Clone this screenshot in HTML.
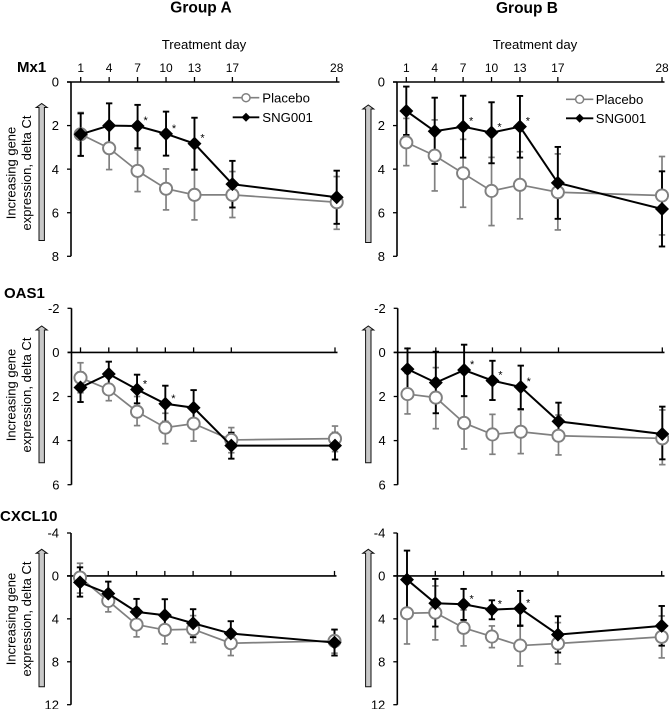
<!DOCTYPE html>
<html lang="en">
<head>
<meta charset="utf-8">
<title>Gene expression by treatment day</title>
<style>
html,body{margin:0;padding:0;background:#fff;}
body{width:669px;height:709px;overflow:hidden;}
svg{display:block;font-family:"Liberation Sans",sans-serif;fill:#000;filter:blur(0.3px);}
</style>
</head>
<body>
<svg id="chart" xmlns="http://www.w3.org/2000/svg" width="669" height="709" viewBox="0 0 669 709"></svg>
<script>
const treatmentDays = [1, 4, 7, 10, 13, 17, 28];
const yTicksMx1 = [0, 2, 4, 6, 8];
const yTicksOas1 = [-2, 0, 2, 4, 6];
const yTicksCxcl10 = [-4, 0, 4, 8, 12];

const mx1APlacebo = [2.4, 3.04, 4.08, 4.9, 5.18, 5.18, 5.52];
const mx1APlaceboLow = [1.4, 2.05, 3.12, 3.99, 4.04, 4.11, 4.34];
const mx1APlaceboHigh = [3.4, 4.02, 5.03, 5.87, 6.33, 6.22, 6.76];
const mx1ASng = [2.4, 2.0, 2.02, 2.38, 2.83, 4.69, 5.29];
const mx1ASngLow = [1.44, 0.98, 1.05, 1.36, 1.64, 3.62, 4.07];
const mx1ASngHigh = [3.39, 3.0, 3.04, 3.38, 4.02, 5.76, 6.51];
const mx1AStars = [7, 10, 13];

const mx1BPlacebo = [2.77, 3.38, 4.19, 5.0, 4.72, 5.06, 5.21];
const mx1BPlaceboLow = [1.67, 1.74, 2.63, 3.46, 3.2, 3.3, 3.42];
const mx1BPlaceboHigh = [3.84, 5.0, 5.75, 6.59, 6.28, 6.79, 7.02];
const mx1BSng = [1.33, 2.26, 2.05, 2.32, 2.05, 4.63, 5.83];
const mx1BSngLow = [0.21, 0.72, 0.63, 0.93, 0.64, 2.98, 4.1];
const mx1BSngHigh = [2.43, 3.76, 3.47, 3.73, 3.47, 6.28, 7.55];
const mx1BStars = [7, 10, 13];

const oas1APlacebo = [1.15, 1.68, 2.69, 3.41, 3.23, 3.97, 3.91];
const oas1APlaceboLow = [0.47, 0.95, 2.0, 2.76, 2.4, 3.41, 3.34];
const oas1APlaceboHigh = [1.83, 2.19, 3.32, 4.14, 4.02, 4.55, 4.5];
const oas1ASng = [1.59, 0.98, 1.68, 2.33, 2.51, 4.23, 4.23];
const oas1ASngLow = [0.9, 0.42, 1.01, 1.51, 1.71, 3.64, 3.64];
const oas1ASngHigh = [2.25, 1.55, 2.31, 3.14, 3.3, 4.82, 4.86];
const oas1AStars = [7, 10];

const oas1BPlacebo = [1.89, 2.05, 3.2, 3.72, 3.6, 3.78, 3.9];
const oas1BPlaceboLow = [0.95, 0.69, 2.0, 2.81, 2.61, 2.84, 2.61];
const oas1BPlaceboHigh = [2.79, 3.46, 4.38, 4.62, 4.59, 4.65, 5.09];
const oas1BSng = [0.76, 1.37, 0.8, 1.28, 1.57, 3.13, 3.7];
const oas1BSngLow = [-0.18, -0.03, -0.35, 0.38, 0.6, 2.28, 2.46];
const oas1BSngHigh = [1.68, 2.76, 1.98, 2.16, 2.57, 3.97, 4.85];
const oas1BStars = [7, 10, 13];

const cxclAPlacebo = [0.15, 2.33, 4.53, 5.03, 4.97, 6.27, 6.06];
const cxclAPlaceboLow = [-1.18, 1.3, 3.0, 3.6, 3.7, 5.1, 5.0];
const cxclAPlaceboHigh = [1.6, 3.35, 5.68, 6.33, 6.2, 7.42, 7.2];
const cxclASng = [0.6, 1.65, 3.35, 3.66, 4.41, 5.37, 6.21];
const cxclASngLow = [-0.8, 0.53, 2.14, 2.17, 3.1, 4.22, 5.0];
const cxclASngHigh = [1.93, 2.76, 4.57, 5.12, 5.71, 6.52, 7.42];
const cxclAStars = [];

const cxclBPlacebo = [3.48, 3.42, 4.84, 5.65, 6.49, 6.3, 5.68];
const cxclBPlaceboLow = [0.62, 0.93, 3.17, 4.66, 4.57, 4.35, 3.73];
const cxclBPlaceboHigh = [6.34, 5.96, 6.52, 6.68, 8.39, 8.2, 7.64];
const cxclBSng = [0.34, 2.55, 2.64, 3.14, 3.04, 5.47, 4.66];
const cxclBSngLow = [-2.36, 0.28, 1.21, 2.27, 1.4, 3.76, 2.8];
const cxclBSngHigh = [3.07, 4.72, 4.1, 4.04, 4.66, 7.14, 6.5];
const cxclBStars = [7, 10, 13];

const GREY = '#808080';
const svg = document.getElementById('chart');

function make(tag, attrs, parent, name) {
  const el = document.createElementNS('http://www.w3.org/2000/svg', tag);
  for (const k in attrs) el.setAttribute(k, attrs[k]);
  
  
  parent.appendChild(el);
  return el;
}
function label(text, x, y, size, parent, name, anchor, weight, transform) {
  const attrs = { x: x, y: y, 'font-size': size, 'text-anchor': anchor || 'start', fill: '#000' };
  if (weight) attrs['font-weight'] = weight;
  if (transform) attrs.transform = transform;
  const el = make('text', attrs, parent, name);
  el.textContent = text;
  return el;
}
function drawErrorBars(g, days, lows, highs, xAt, yAt, isPlacebo) {
  const color = isPlacebo ? GREY : '#000';
  const key = isPlacebo ? 'placebo' : 'sng001';
  const barWidth = isPlacebo ? 1.7 : 1.9;
  const sg = make('g', {}, g, key + '-error-bars');
  days.forEach(function (d, i) {
    const x = xAt(d);
    make('line', { x1: x, x2: x, y1: yAt(lows[i]), y2: yAt(highs[i]), stroke: color, 'stroke-width': barWidth }, sg, key + '-error-bar-day-' + d);
    make('line', { x1: x - 3.2, x2: x + 3.2, y1: yAt(lows[i]), y2: yAt(lows[i]), stroke: color, 'stroke-width': barWidth }, sg, key + '-error-cap-low-day-' + d);
    make('line', { x1: x - 3.2, x2: x + 3.2, y1: yAt(highs[i]), y2: yAt(highs[i]), stroke: color, 'stroke-width': barWidth }, sg, key + '-error-cap-high-day-' + d);
  });
}
function drawSeries(g, days, means, xAt, yAt, isPlacebo) {
  const color = isPlacebo ? GREY : '#000';
  const key = isPlacebo ? 'placebo' : 'sng001';
  const sg = make('g', {}, g, key + '-series');
  const pts = days.map(function (d, i) { return xAt(d) + ',' + yAt(means[i]); }).join(' ');
  make('polyline', { points: pts, fill: 'none', stroke: color, 'stroke-width': isPlacebo ? 1.7 : 2 }, sg, key + '-line');
  days.forEach(function (d, i) {
    const x = xAt(d), y = yAt(means[i]);
    if (isPlacebo) {
      make('circle', { cx: x, cy: y, r: 6.1, fill: '#fff', stroke: GREY, 'stroke-width': 1.9 }, sg, 'placebo-point-day-' + d);
    } else {
      const s = 7;
      make('polygon', { points: [x, y - s, x + s, y, x, y + s, x - s, y].join(' '), fill: '#000' }, sg, 'sng001-point-day-' + d);
    }
  });
}
function drawPanel(p) {
  const g = make('g', {}, svg, p.name + '-panel');
  const xAt = function (d) { return p.x1 + (d - 1) * (p.x28 - p.x1) / 27; };
  const yMin = p.yTicks[0], yMax = p.yTicks[p.yTicks.length - 1];
  const yAt = function (v) { return p.top + (v - yMin) * (p.bottom - p.top) / (yMax - yMin); };
  const zero = yAt(0);

  make('line', { x1: p.axisX, x2: p.axisX, y1: p.top, y2: p.bottom, stroke: '#000', 'stroke-width': 1.6 }, g, 'y-axis-line');
  make('line', { x1: p.axisX - 4, x2: p.xEnd, y1: zero, y2: zero, stroke: '#000', 'stroke-width': 1.6 }, g, 'x-axis-line');
  p.yTicks.forEach(function (t) {
    make('line', { x1: p.axisX - 4, x2: p.axisX, y1: yAt(t), y2: yAt(t), stroke: '#000', 'stroke-width': 1.3 }, g, 'y-tick-' + t);
    label(String(t), p.axisX - 12, yAt(t) + 4.6, 13, g, 'y-tick-label-' + t, 'end');
  });
  treatmentDays.forEach(function (d) {
    make('line', { x1: xAt(d), x2: xAt(d), y1: zero - 5, y2: zero, stroke: '#000', 'stroke-width': 1.3 }, g, 'x-tick-day-' + d);
    if (p.showDays) label(String(d), xAt(d), 72, 12, g, 'x-tick-label-day-' + d, 'middle');
  });

  drawErrorBars(g, treatmentDays, p.placeboLow, p.placeboHigh, xAt, yAt, true);
  drawErrorBars(g, treatmentDays, p.sngLow, p.sngHigh, xAt, yAt, false);
  drawSeries(g, treatmentDays, p.placebo, xAt, yAt, true);
  drawSeries(g, treatmentDays, p.sng, xAt, yAt, false);

  p.stars.forEach(function (d) {
    const i = treatmentDays.indexOf(d);
    label('*', xAt(d) + 8, yAt(p.sng[i]) - 2, 11, g, 'significance-star-day-' + d, 'middle');
  });

  const ax = p.arrowX, at = p.arrowTop, ab = p.arrowBottom;
  const arrowPts = [ax - 2.7, ab, ax + 2.7, ab, ax + 2.7, at + 4, ax + 5.5, at + 4, ax, at, ax - 5.5, at + 4, ax - 2.7, at + 4].join(' ');
  make('polygon', { points: arrowPts, fill: '#c8c8c8', stroke: '#111', 'stroke-width': 1 }, g, 'increasing-expression-arrow');
}

const panels = [
  { name: 'mx1-group-a', x1: 80.7, x28: 336.7, axisX: 71, xEnd: 339.5, top: 82, bottom: 256.3, yTicks: yTicksMx1, showDays: true,
    placebo: mx1APlacebo, placeboLow: mx1APlaceboLow, placeboHigh: mx1APlaceboHigh, sng: mx1ASng, sngLow: mx1ASngLow, sngHigh: mx1ASngHigh, stars: mx1AStars,
    arrowX: 41.7, arrowTop: 103.5, arrowBottom: 240.5 },
  { name: 'mx1-group-b', x1: 406.3, x28: 662, axisX: 397, xEnd: 664.5, top: 82, bottom: 256.3, yTicks: yTicksMx1, showDays: true,
    placebo: mx1BPlacebo, placeboLow: mx1BPlaceboLow, placeboHigh: mx1BPlaceboHigh, sng: mx1BSng, sngLow: mx1BSngLow, sngHigh: mx1BSngHigh, stars: mx1BStars,
    arrowX: 368.3, arrowTop: 105, arrowBottom: 242.5 },
  { name: 'oas1-group-a', x1: 80.5, x28: 335, axisX: 71.5, xEnd: 337.5, top: 308.3, bottom: 484.7, yTicks: yTicksOas1, showDays: false,
    placebo: oas1APlacebo, placeboLow: oas1APlaceboLow, placeboHigh: oas1APlaceboHigh, sng: oas1ASng, sngLow: oas1ASngLow, sngHigh: oas1ASngHigh, stars: oas1AStars,
    arrowX: 41.7, arrowTop: 326, arrowBottom: 462.7 },
  { name: 'oas1-group-b', x1: 407.5, x28: 662.3, axisX: 397.7, xEnd: 664.5, top: 308.3, bottom: 484.7, yTicks: yTicksOas1, showDays: false,
    placebo: oas1BPlacebo, placeboLow: oas1BPlaceboLow, placeboHigh: oas1BPlaceboHigh, sng: oas1BSng, sngLow: oas1BSngLow, sngHigh: oas1BSngHigh, stars: oas1BStars,
    arrowX: 368.3, arrowTop: 326, arrowBottom: 462.7 },
  { name: 'cxcl10-group-a', x1: 80, x28: 334.5, axisX: 71, xEnd: 336.5, top: 533, bottom: 704.7, yTicks: yTicksCxcl10, showDays: false,
    placebo: cxclAPlacebo, placeboLow: cxclAPlaceboLow, placeboHigh: cxclAPlaceboHigh, sng: cxclASng, sngLow: cxclASngLow, sngHigh: cxclASngHigh, stars: cxclAStars,
    arrowX: 41.7, arrowTop: 549.3, arrowBottom: 686.7 },
  { name: 'cxcl10-group-b', x1: 407, x28: 661.7, axisX: 397.3, xEnd: 664.5, top: 533, bottom: 704.7, yTicks: yTicksCxcl10, showDays: false,
    placebo: cxclBPlacebo, placeboLow: cxclBPlaceboLow, placeboHigh: cxclBPlaceboHigh, sng: cxclBSng, sngLow: cxclBSngLow, sngHigh: cxclBSngHigh, stars: cxclBStars,
    arrowX: 368.3, arrowTop: 549.3, arrowBottom: 686.7 }
];
panels.forEach(drawPanel);

const titles = make('g', {}, svg, 'figure-titles');
label('Group A', 201, 12.5, 15.5, titles, 'group-a-title', 'middle', 'bold');
label('Group B', 527, 13, 15.5, titles, 'group-b-title', 'middle', 'bold');
label('Treatment day', 204, 49, 13.2, titles, 'group-a-x-axis-title', 'middle');
label('Treatment day', 535, 49, 13.2, titles, 'group-b-x-axis-title', 'middle');
label('Mx1', 17, 72, 15, titles, 'mx1-row-label', 'start', 'bold');
label('OAS1', 4, 298, 15, titles, 'oas1-row-label', 'start', 'bold');
label('CXCL10', 0, 521, 15, titles, 'cxcl10-row-label', 'start', 'bold');

[[173, 'mx1'], [395, 'oas1'], [619, 'cxcl10']].forEach(function (row) {
  const cy = row[0];
  label('Increasing gene', 15.5, cy, 13, titles, row[1] + '-y-axis-title-line-1', 'middle', null, 'rotate(-90 15.5 ' + cy + ')');
  label('expression, delta Ct', 31, cy, 13, titles, row[1] + '-y-axis-title-line-2', 'middle', null, 'rotate(-90 31 ' + cy + ')');
});

function drawLegend(name, lineX1, lineX2, textX, y1, y2) {
  const g = make('g', {}, svg, name);
  const mid = (lineX1 + lineX2) / 2;
  make('line', { x1: lineX1, x2: lineX2, y1: y1, y2: y1, stroke: GREY, 'stroke-width': 1.6 }, g, 'legend-placebo-line');
  make('circle', { cx: mid, cy: y1, r: 4, fill: '#fff', stroke: GREY, 'stroke-width': 1.5 }, g, 'legend-placebo-marker');
  label('Placebo', textX, y1 + 4.6, 13.2, g, 'legend-placebo-label');
  make('line', { x1: lineX1, x2: lineX2, y1: y2, y2: y2, stroke: '#000', 'stroke-width': 1.8 }, g, 'legend-sng001-line');
  const s = 4.5;
  make('polygon', { points: [mid, y2 - s, mid + s, y2, mid, y2 + s, mid - s, y2].join(' '), fill: '#000' }, g, 'legend-sng001-marker');
  label('SNG001', textX, y2 + 4.6, 13.2, g, 'legend-sng001-label');
}
drawLegend('group-a-legend', 232.7, 259.3, 262.3, 97.7, 117.3);
drawLegend('group-b-legend', 566, 593.3, 595.7, 99.3, 118.3);
</script>
</body>
</html>
